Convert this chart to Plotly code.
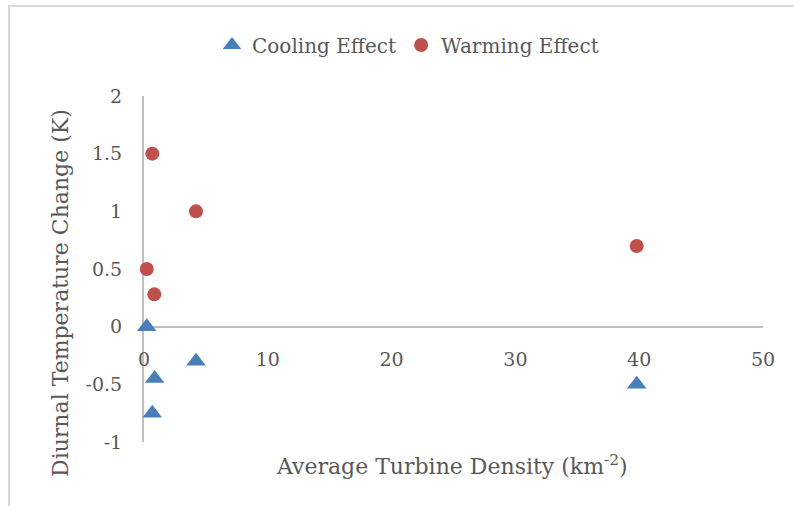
import plotly.graph_objects as go

cooling_x = [0.22, 4.2, 0.86, 0.67, 39.8]
cooling_y = [0.0, -0.30, -0.45, -0.75, -0.50]
warming_x = [0.67, 4.2, 0.22, 0.83, 39.8]
warming_y = [1.50, 1.00, 0.50, 0.28, 0.70]

x_ticks = [0, 10, 20, 30, 40, 50]
y_ticks = [-1, -0.5, 0, 0.5, 1, 1.5, 2]
y_tick_text = ["-1", "-0.5", "0", "0.5", "1", "1.5", "2"]

FONT = "DejaVu Serif"
TXT = "#595959"
AX = "#BFBFBF"

W, H = 794, 506
L, R, T, B = 144, 31, 96, 64
pw, ph = W - L - R, H - T - B

def px2x(p):
    return (p - L) / pw

def py2y(p):
    return (H - B - p) / ph

fig = go.Figure()
fig.add_trace(go.Scatter(x=cooling_x, y=cooling_y, mode="markers", name="Cooling Effect",
                         cliponaxis=False,
                         marker=dict(symbol="triangle-up", size=17, color="#4A7EBB")))
fig.add_trace(go.Scatter(x=warming_x, y=warming_y, mode="markers", name="Warming Effect",
                         cliponaxis=False,
                         marker=dict(symbol="circle", size=14, color="#C0504D")))

fig.update_layout(
    width=W, height=H,
    margin=dict(l=L, r=R, t=T, b=B, autoexpand=False),
    paper_bgcolor="white", plot_bgcolor="white",
    font=dict(family=FONT, color=TXT, size=19),
    showlegend=True,
    legend=dict(orientation="h", x=px2x(408), xanchor="center", y=py2y(45), yanchor="middle",
                font=dict(family=FONT, size=20, color=TXT), bgcolor="rgba(0,0,0,0)"),
    xaxis=dict(range=[0, 50], tickvals=x_ticks, showgrid=False, zeroline=False,
               showline=True, linecolor=AX, linewidth=2, anchor="free", position=1/3,
               layer="below traces",
               ticks="", ticklabelstandoff=16, tickfont=dict(size=19, color=TXT)),
    yaxis=dict(range=[-1, 2], tickvals=y_ticks, ticktext=y_tick_text, showgrid=False,
               zeroline=False, showline=True, linecolor=AX, linewidth=2,
               layer="below traces",
               ticks="", ticklabelstandoff=16, tickfont=dict(size=19, color=TXT)),
    annotations=[
        dict(text="Average Turbine Density (km<sup>-2</sup>)", xref="paper", yref="paper",
             x=px2x(452), y=py2y(465), xanchor="center", yanchor="middle", showarrow=False,
             font=dict(family=FONT, size=22, color=TXT)),
        dict(text="Diurnal Temperature Change (K)", xref="paper", yref="paper",
             x=px2x(60), y=py2y(293), xanchor="center", yanchor="middle", showarrow=False,
             textangle=-90, font=dict(family=FONT, size=22, color=TXT)),
    ],
    shapes=[
        dict(type="rect", xref="paper", yref="paper", x0=px2x(9), x1=px2x(805),
             y0=py2y(515), y1=py2y(6), line=dict(color="#D9D9D9", width=2), layer="below"),
    ],
)

fig.write_html("out.html")
